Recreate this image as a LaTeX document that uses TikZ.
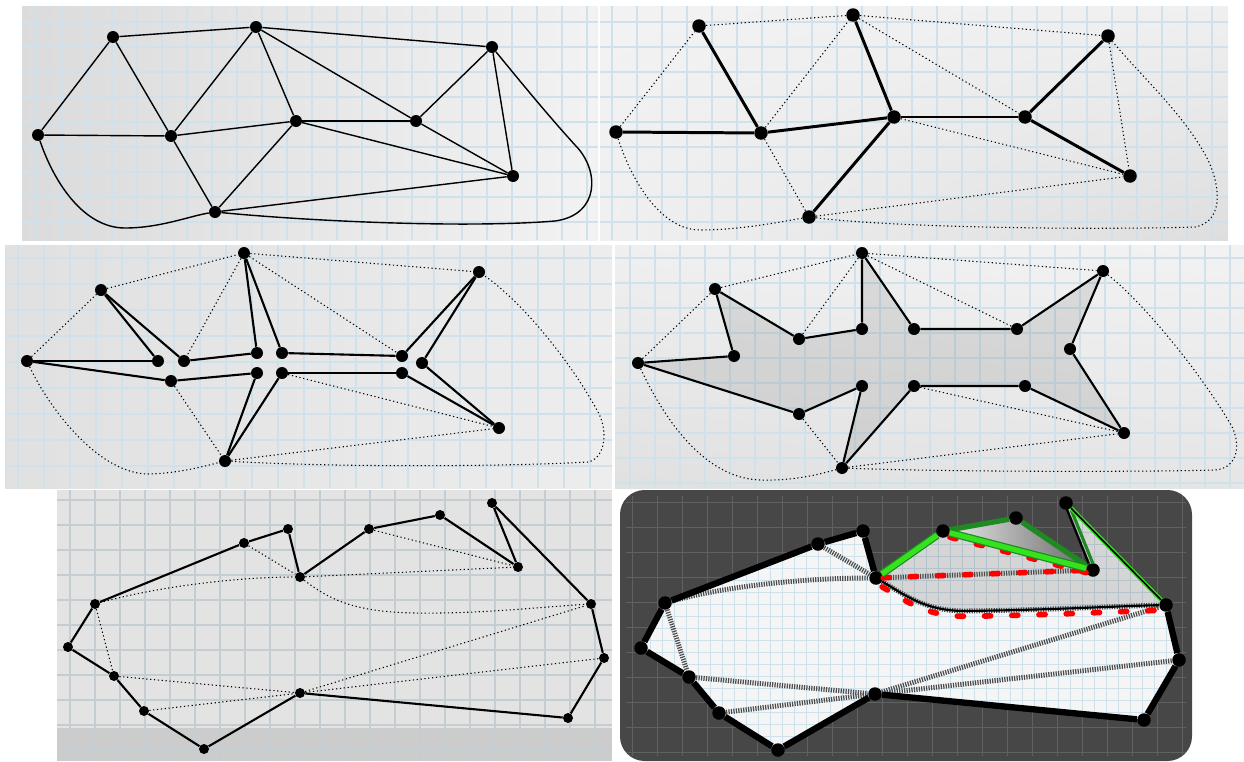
\documentclass[tikz,border=0pt]{standalone}
\usepackage{tikz}
\usetikzlibrary{shadings}
\pgfdeclarelayer{bg}
\pgfsetlayers{bg,main}
\definecolor{gridblue}{HTML}{CFE1EA}
\definecolor{gridgray}{HTML}{C3CDD2}
\definecolor{darkbg}{HTML}{474747}
\definecolor{brightgreen}{HTML}{35E21E}
\definecolor{darkgreen}{HTML}{1F8A22}

\begin{document}
\begin{tikzpicture}[
  x=0.02cm, y=-0.02cm,
  dot/.style={circle, fill=black, inner sep=0pt, minimum size=2.4mm},
  smalldot/.style={dot, minimum size=2mm},
  bigdot/.style={dot, minimum size=2.7mm},
  meshline/.style={line width=0.8pt},
  trunk/.style={line width=1.7pt},
  rim/.style={line width=1.2pt},
  ghost/.style={line width=0.6pt, dash pattern=on 0.7pt off 1.5pt},
  gridline/.style={gridblue, line width=0.6pt},
  heavy/.style={line width=3.6pt},
  rope/.style={black!70, line width=2.8pt, dash pattern=on 0.7pt off 0.7pt},
  redtrace/.style={red, line width=3.2pt, dash pattern=on 3.5pt off 12pt, line cap=round}
]
\useasboundingbox (0,0) rectangle (1244,761);

% top left: full mesh
\foreach \n/\x/\y in {A/38/135, B/113/37, C/171/136, D/256/27, E/296/121,
                      F/416/121, G/492/47, H/513/176, I/215/212}
  \node[dot] (m\n) at (\x,\y) {};

% top right: spanning tree
\foreach \n/\x/\y in {A/616/132, B/699/26, C/761/133, D/853/15, E/894/117,
                      F/1025/117, G/1108/36, H/1130/176, I/809/217}
  \node[bigdot] (t\n) at (\x,\y) {};

% middle left: split tree
\foreach \n/\x/\y in {A/27/361, B/101/290, C1/158/361, C2/184/361, C3/171/381,
                      D/244/253, E1/257/353, E2/282/353, E3/257/373, E4/282/373,
                      F1/402/356, F2/422/363, F3/402/373, G/479/272, H/499/428,
                      I/225/461}
  \node[dot] (s\n) at (\x,\y) {};

% middle right: polygon
\foreach \n/\x/\y in {A/638/363, B/715/289, B2/734/356, C/799/339, D/862/253,
                      E1/862/329, E2/914/329, F1/1017/329, G/1103/271, F2/1070/349,
                      H/1124/433, F3/1025/386, E4/914/386, I/842/468, E3/862/386,
                      C2/799/414}
  \node[dot] (p\n) at (\x,\y) {};

% bottom left: outline
\foreach \n/\x/\y in {1/68/647, 2/95/604, 3/244/543, 4/288/529, 5/300/577,
                      6/369/529, 7/440/515, 8/492/503, 9/518/567, 10/591/604,
                      11/604/658, 12/568/718, 13/300/693, 14/204/749, 15/144/711,
                      16/114/676}
  \node[smalldot] (h\n) at (\x,\y) {};

% bottom right: repaired outline
\foreach \n/\x/\y in {1/641/648, 2/665/603, 3/818/544, 4/863/531, 5/876/578,
                      6/943/531, 7/1016/518, 8/1066/503, 9/1093/570, 10/1166/605,
                      11/1179/660, 12/1144/720, 13/875/694, 14/778/750, 15/719/713,
                      16/689/677}
  \node[bigdot] (r\n) at (\x,\y) {};

\begin{pgfonlayer}{bg}
  % panel backgrounds
  \shade[left color=black!14, right color=black!5] (22,6) rectangle (598,240);
  \shade[upper left=black!5, upper right=black!6, lower left=black!6, lower right=black!13]
    (600,6) rectangle (1228,240);
  \shade[left color=black!12, right color=black!7] (5,245) rectangle (612,488);
  \shade[upper left=black!6, upper right=black!5, lower left=black!12, lower right=black!10]
    (615,245) rectangle (1244,488);
  \fill[black!11] (57,490) rectangle (612,761);
  \fill[black!20] (57,728) rectangle (612,761);
  \fill[darkbg, rounded corners=14pt] (620,490) rectangle (1192,761);

  % grids
  \foreach \g in {37,62,...,587} \draw[gridline] (\g,6) -- (\g,240);
  \foreach \g in {22,47,...,222} \draw[gridline] (22,\g) -- (598,\g);
  \foreach \g in {612,637,...,1212} \draw[gridline] (\g,6) -- (\g,240);
  \foreach \g in {22,47,...,222} \draw[gridline] (600,\g) -- (1228,\g);
  \foreach \g in {18,44,...,600} \draw[gridline] (\g,245) -- (\g,488);
  \foreach \g in {258,284,...,480} \draw[gridline] (5,\g) -- (612,\g);
  \foreach \g in {630,655,...,1230} \draw[gridline] (\g,245) -- (\g,488);
  \foreach \g in {258,283,...,483} \draw[gridline] (615,\g) -- (1244,\g);
  \foreach \g in {70,95,...,600} \draw[gridgray, line width=0.8pt] (\g,490) -- (\g,761);
  \foreach \g in {500,525,...,750} \draw[gridgray, line width=0.8pt] (57,\g) -- (612,\g);
  \foreach \g in {632,657,...,1182} \draw[black!62, line width=0.5pt] (\g,496) -- (\g,756);
  \foreach \g in {502,527,...,752} \draw[black!62, line width=0.5pt] (626,\g) -- (1186,\g);

  % polygon fill
  \fill[black, fill opacity=0.09] (pA.center) -- (pB2.center) -- (pB.center) -- (pC.center)
    -- (pE1.center) -- (pD.center) -- (pE2.center) -- (pF1.center) -- (pG.center)
    -- (pF2.center) -- (pH.center) -- (pF3.center) -- (pE4.center) -- (pI.center)
    -- (pE3.center) -- (pC2.center) -- cycle;

  % repaired outline fill
  \begin{scope}
    \clip (r1.center) -- (r2.center) -- (r3.center) -- (r4.center) -- (r5.center)
      -- (r6.center) -- (r9.center) -- (r8.center) -- (r10.center) -- (r11.center)
      -- (r12.center) -- (r13.center) -- (r14.center) -- (r15.center) -- (r16.center) -- cycle;
    \fill[black!4] (620,490) rectangle (1192,761);
    \foreach \g in {626,638,...,1190} \draw[gridblue, line width=0.4pt] (\g,490) -- (\g,761);
    \foreach \g in {496,508,...,760} \draw[gridblue, line width=0.4pt] (620,\g) -- (1192,\g);
  \end{scope}
  \fill[black, fill opacity=0.13] (r5.center) -- (r6.center) -- (r9.center) -- (r8.center)
    -- (r10.center) .. controls (1120,606) and (1050,610) .. (965,611)
    .. controls (925,611) and (905,595) .. (r5.center) -- cycle;
  \shade[left color=black!8, right color=black!60] (r6.center) -- (r7.center) -- (r9.center) -- cycle;
\end{pgfonlayer}

% top left edges
\foreach \u/\v in {A/B, A/C, B/C, B/D, C/D, C/E, C/I, D/E, D/F, D/G, E/F, E/H, E/I,
                   F/G, F/H, G/H, I/H}
  \draw[meshline] (m\u) -- (m\v);
\draw[meshline] (mA) .. controls (55,185) and (85,228) .. (125,228)
  .. controls (160,228) and (190,216) .. (mI);
\draw[meshline] (mI) .. controls (320,222) and (470,228) .. (555,221)
  .. controls (600,215) and (600,170) .. (575,145)
  .. controls (545,112) and (515,75) .. (mG);

% top right edges
\foreach \u/\v in {A/C, B/C, C/E, D/E, E/I, E/F, F/G, F/H}
  \draw[trunk] (t\u) -- (t\v);
\foreach \u/\v in {A/B, B/D, C/D, C/I, D/F, D/G, E/H, G/H, I/H}
  \draw[ghost] (t\u) -- (t\v);
\draw[ghost] (tA) .. controls (633,185) and (663,230) .. (700,230)
  .. controls (740,230) and (780,222) .. (tI);
\draw[ghost] (tI) .. controls (900,228) and (1100,230) .. (1195,227)
  .. controls (1222,222) and (1222,190) .. (1208,160)
  .. controls (1185,115) and (1140,75) .. (tG);

% middle left edges
\foreach \u/\v in {A/C1, A/C3, B/C1, B/C2, C2/E1, C3/E3, D/E1, D/E2, E2/F1, E4/F3,
                   E3/I, E4/I, G/F1, G/F2, F2/H, F3/H}
  \draw[rim] (s\u) -- (s\v);
\foreach \u/\v in {A/B, B/D, D/G, D/C2, C3/I, D/F1, E4/H, I/H}
  \draw[ghost] (s\u) -- (s\v);
\draw[ghost] (sA) .. controls (50,410) and (100,475) .. (150,474)
  .. controls (180,473) and (205,466) .. (sI);
\draw[ghost] (sI) .. controls (350,468) and (520,466) .. (588,462)
  .. controls (606,458) and (608,430) .. (598,412)
  .. controls (570,360) and (520,300) .. (sG);

% middle right edges
\draw[rim] (pA) -- (pB2) -- (pB) -- (pC) -- (pE1) -- (pD) -- (pE2) -- (pF1) -- (pG)
  -- (pF2) -- (pH) -- (pF3) -- (pE4) -- (pI) -- (pE3) -- (pC2) -- (pA);
\foreach \u/\v in {A/B, B/D, D/G, D/C, D/F1, C2/I, E4/H, I/H}
  \draw[ghost] (p\u) -- (p\v);
\draw[ghost] (pA) .. controls (660,410) and (700,478) .. (760,480)
  .. controls (795,481) and (820,474) .. (pI);
\draw[ghost] (pI) .. controls (950,472) and (1150,472) .. (1215,470)
  .. controls (1240,468) and (1242,440) .. (1228,420)
  .. controls (1195,365) and (1140,300) .. (pG);

% bottom left edges
\draw[rim] (h1) -- (h2) -- (h3) -- (h4) -- (h5) -- (h6) -- (h7) -- (h9) -- (h8) -- (h10)
  -- (h11) -- (h12) -- (h13) -- (h14) -- (h15) -- (h16) -- (h1);
\foreach \u/\v in {3/5, 6/9, 5/9, 2/16, 16/13, 15/13, 13/10, 13/11}
  \draw[ghost] (h\u) -- (h\v);
\draw[ghost] (h2) .. controls (160,586) and (240,577) .. (h5);
\draw[ghost] (h5) .. controls (330,600) and (355,612) .. (415,613)
  .. controls (480,614) and (540,607) .. (h10);

% bottom right edges
\foreach \u/\v in {3/5, 2/16, 16/13, 15/13, 13/10, 13/11, 5/9}
  \draw[rope] (r\u) -- (r\v);
\draw[rope] (r2) .. controls (730,585) and (810,578) .. (r5);
\draw[rope] (r5) .. controls (905,595) and (925,611) .. (965,611)
  .. controls (1050,610) and (1120,606) .. (r10);
\draw[line width=1.2pt] (r5) .. controls (905,595) and (925,611) .. (965,611)
  .. controls (1050,610) and (1120,606) .. (r10);
\draw[redtrace] (r5) -- (r9);
\draw[redtrace, transform canvas={yshift=-2.5pt}] (r6) -- (r9);
\draw[redtrace, transform canvas={yshift=-3pt}] (r5) .. controls (905,595) and (925,611) .. (965,611)
  .. controls (1050,610) and (1120,606) .. (r10);
\draw[heavy] (r5) -- (r4) -- (r3) -- (r2) -- (r1) -- (r16) -- (r15) -- (r14) -- (r13)
  -- (r12) -- (r11) -- (r10);
\draw[darkgreen, line width=3pt] (r6) -- (r7) -- (r9);
\draw[darkgreen, line width=4.4pt] (r5) -- (r6) -- (r9);
\draw[brightgreen, line width=3pt] (r5) -- (r6) -- (r9);
\draw[darkgreen, line width=1.8pt, transform canvas={xshift=1.4pt}] (r8) -- (r9);
\draw[line width=1.2pt, transform canvas={xshift=-1pt}] (r8) -- (r9);
\draw[brightgreen, line width=2.4pt] (r8) -- (r10);
\draw[line width=0.9pt] (r8) -- (r10);
\end{tikzpicture}
\end{document}
